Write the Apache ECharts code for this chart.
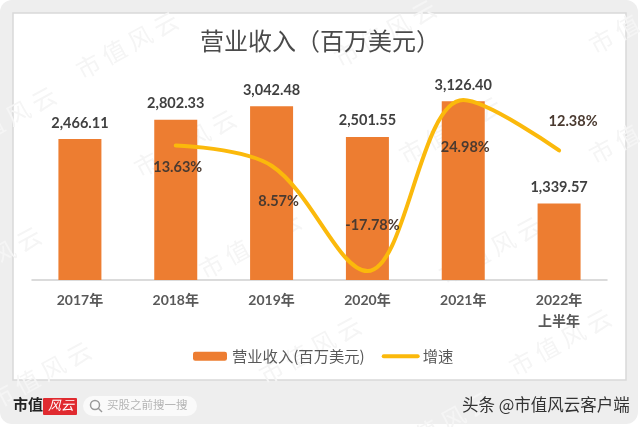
<!DOCTYPE html>
<html><head><meta charset="utf-8">
<style>html,body{margin:0;padding:0;background:#fff}#c{width:640px;height:427px}</style>
<script src="https://cdn.jsdelivr.net/npm/echarts@6/dist/echarts.min.js"></script>
</head><body><div id="c"></div>
<script>
const categories = ['2017年','2018年','2019年','2020年','2021年','2022年\n上半年'];
const revenue = [2466.11,2802.33,3042.48,2501.55,3126.40,1339.57];
const growth = [null,13.63,8.57,-17.78,24.98,12.38];
const growthLabelOffsets = [[0,0],[2,22],[7,36],[5,-46],[2,47],[14,-29]];
const barName = '营业收入(百万美元)';
const lineName = '增速';
const titleText = '营业收入（百万美元）';
const cjk = '"Noto Sans CJK SC"';
const num = 'Lato,' + cjk;
const wmCenters = [[127,45],[185,143],[250,245],[40,375],[-10,260],[310,350],[490,250],[560,342],[640,20],[385,33],[450,130],[640,130],[440,425],[5,120]];

const chart = echarts.init(document.getElementById('c'),null,{renderer:'canvas'});
const graphic = [
 {type:'rect',z:-10,silent:true,shape:{x:0,y:0,width:638,height:424,r:12},style:{fill:'#eeeeee'}},
 {type:'rect',z:-9,silent:true,shape:{x:13,y:13,width:613,height:367},style:{fill:'#fff',stroke:'#d9d9d9',lineWidth:1.5}},
 ...wmCenters.map(([x,y])=>({type:'text',z:-8,silent:true,x,y,rotation:0.5,style:{text:'市 值 风 云',font:'24px '+cjk,fill:'#f5f5f5',align:'center',verticalAlign:'middle'}})),
 {type:'text',silent:true,x:13,y:397,style:{text:'市值',font:'bold 15px '+cjk,fill:'#222'}},
 {type:'rect',silent:true,shape:{x:43,y:398,width:34,height:17,r:1},style:{fill:'#e02a2f'}},
 {type:'text',silent:true,x:48,y:399,style:{text:'风云',font:'italic 13px '+cjk,fill:'#fff'}},
 {type:'rect',silent:true,shape:{x:83,y:396,width:114,height:20,r:10},style:{fill:'#fafafa'}},
 {type:'circle',silent:true,shape:{cx:95,cy:405,r:4.5},style:{fill:'none',stroke:'#999',lineWidth:1.5}},
 {type:'line',silent:true,shape:{x1:98,y1:408,x2:102,y2:412},style:{stroke:'#999',lineWidth:1.5}},
 {type:'text',silent:true,x:107,y:399,style:{text:'买股之前搜一搜',font:'11.5px '+cjk,fill:'#b5b5b5'}},
 {type:'text',silent:true,x:462,y:396,style:{text:'头条 @市值风云客户端',font:'16.5px '+cjk,fill:'#333'}}
];
chart.setOption({
 animation:false,
 title:{text:titleText,left:'center',top:29,textStyle:{fontFamily:cjk,fontSize:24,fontWeight:'normal',color:'#4a4a4a'},padding:0},
 legend:{bottom:63,left:193,padding:0,itemGap:17,itemWidth:34,itemHeight:9,textStyle:{fontFamily:cjk,fontSize:15.3,color:'#595959'},data:[{name:barName},{name:lineName,itemStyle:{opacity:0},lineStyle:{width:4,cap:'round'}}]},
 grid:{left:32,right:33,top:80,bottom:147},
 xAxis:{type:'category',data:categories,axisLine:{lineStyle:{color:'#d0d0d0',width:1.5}},axisTick:{show:false},
   axisLabel:{interval:0,margin:10,color:'#595959',fontFamily:num,fontSize:14,fontWeight:'bold',lineHeight:21}},
 yAxis:[{type:'value',min:0,max:3500,interval:500,show:false},{type:'value',min:-20,max:30,interval:10,show:false}],
 series:[
  {name:barName,type:'bar',data:revenue,barWidth:43,itemStyle:{color:'#ed7d31'},
   label:{show:true,position:'top',distance:9,formatter:p=>p.value.toLocaleString('en-US',{minimumFractionDigits:2}),fontFamily:num,fontSize:14.5,fontWeight:'bold',color:'#404040'}},
  {name:lineName,type:'line',yAxisIndex:1,data:growth,smooth:0.35,symbol:'circle',symbolSize:1,showSymbol:true,connectNulls:false,z:5,
   lineStyle:{color:'#fbb90b',width:4,cap:'round'},itemStyle:{color:'#fbb90b'},
   labelLayout:(p)=>{const o=growthLabelOffsets[p.dataIndex];return {dx:o[0],dy:o[1]};},
   label:{show:true,position:'inside',formatter:p=>p.value==null?'':p.value.toFixed(2)+'%',fontFamily:num,fontSize:14.5,fontWeight:'bold',color:'#4a3a30'}}
 ],
 graphic
});
</script></body></html>
